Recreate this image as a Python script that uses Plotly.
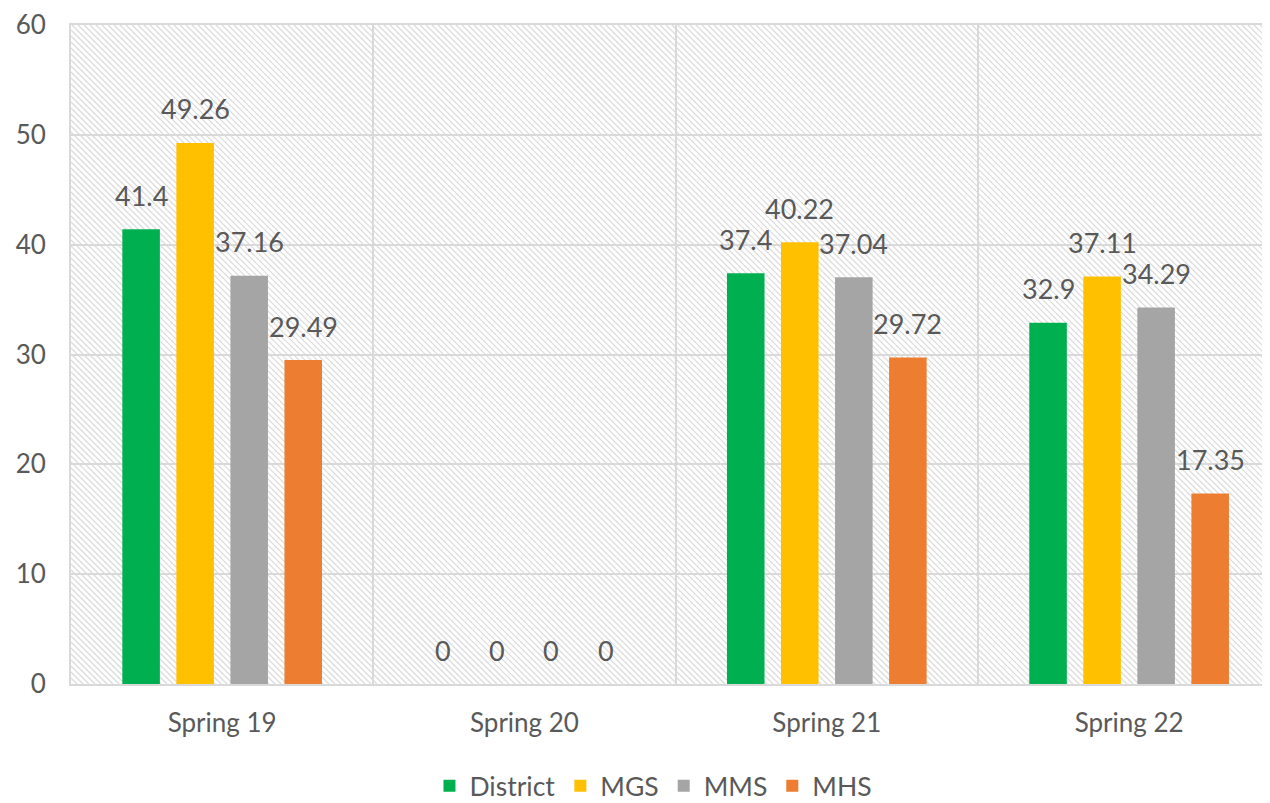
import plotly.graph_objects as go

categories = ["Spring 19", "Spring 20", "Spring 21", "Spring 22"]
series_names = ["District", "MGS", "MMS", "MHS"]
district = [41.4, 0, 37.4, 32.9]
mgs = [49.26, 0, 40.22, 37.11]
mms = [37.16, 0, 37.04, 34.29]
mhs = [29.49, 0, 29.72, 17.35]
y_ticks = [0, 10, 20, 30, 40, 50, 60]

colors = ["#00B050", "#FFC000", "#A5A5A5", "#ED7D31"]
values = [district, mgs, mms, mhs]

# the page body has an 8px margin, so the figure is sized to the remaining window
W, H = 1262, 795
ML, MR, MT, MB = 63, 0, 17, 119
PW, PH = W - ML - MR, H - MT - MB
X_RANGE = [-0.5, 3.466]
CAT_PX = PW / (X_RANGE[1] - X_RANGE[0])
BARGAP = 0.285
BARGROUPGAP = 0.305
FONT = "Lato, 'Open Sans', sans-serif"
TXT = "#595959"

fig = go.Figure()
for name, vals, col in zip(series_names, values, colors):
    fig.add_trace(go.Bar(name=name, x=categories, y=vals, marker=dict(color=col, line=dict(width=0))))

# data labels as annotations placed above each bar
slot = CAT_PX * (1 - BARGAP) / len(series_names)
annotations = []
for i, vals in enumerate(values):
    xs = (i - (len(series_names) - 1) / 2) * slot
    for c, v in zip(categories, vals):
        annotations.append(dict(x=c, y=v, xref="x", yref="y", text=f"{v:g}", showarrow=False,
                                xshift=xs, yshift=34, font=dict(size=27, color=TXT, family=FONT)))

# hatch background (decorative)
step = 6.0
parts = []
a = -PH
while a < PW:
    x0 = max(0.0, a)
    x1 = min(float(PW), a + PH)
    if x1 > x0:
        parts.append(f"M{x0/PW:.5f},{1-(x0-a)/PH:.5f}L{x1/PW:.5f},{1-(x1-a)/PH:.5f}")
    a += step
hatch = dict(type="path", xref="paper", yref="paper", path="".join(parts),
             line=dict(color="#DADADA", width=1.2), layer="below")

fig.update_layout(
    width=W, height=H,
    margin=dict(l=ML, r=MR, t=MT, b=MB, autoexpand=False),
    paper_bgcolor="white", plot_bgcolor="white",
    barmode="group", bargap=BARGAP, bargroupgap=BARGROUPGAP,
    font=dict(family=FONT, color=TXT),
    shapes=[hatch],
    annotations=annotations,
    legend=dict(orientation="h", x=0.4858, xanchor="center", y=-0.155, yanchor="middle",
                font=dict(size=26.5, color=TXT, family=FONT), itemwidth=30, traceorder="normal"),
    showlegend=True,
)
fig.update_xaxes(type="category", range=X_RANGE, tickson="boundaries", showgrid=True, gridcolor="#D9D9D9",
                 gridwidth=2, ticks="", showline=True, linecolor="#D9D9D9", linewidth=2, mirror=True,
                 automargin=False, tickfont=dict(size=26, color=TXT, family=FONT), ticklabelstandoff=15)
fig.update_yaxes(range=[0, 60], tickvals=y_ticks, showgrid=True, gridcolor="#D9D9D9", gridwidth=2,
                 zeroline=False, showline=True, linecolor="#D9D9D9", linewidth=2, mirror=False, automargin=False,
                 ticks="", tickfont=dict(size=26, color=TXT, family=FONT), ticklabelstandoff=18,
                 ticklabeloverflow="allow")

fig.write_html("out.html")
